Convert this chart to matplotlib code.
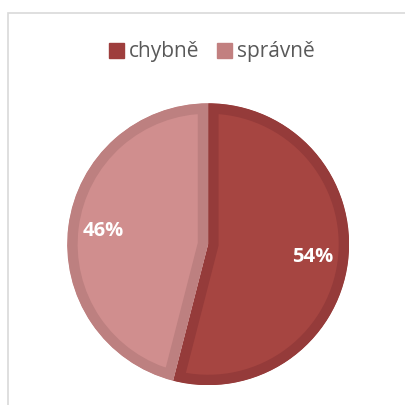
import matplotlib.pyplot as plt
from matplotlib.patches import Rectangle

labels = ['chybně', 'správně']
shares = [54, 46]
fill_colors = ['#A64541', '#D08E8E']
edge_colors = ['#953B3A', '#BD8080']
legend_colors = ['#9E3E3D', '#C28080']

plt.rcParams['font.family'] = ['Open Sans', 'DejaVu Sans']

fig = plt.figure(figsize=(4.05, 4.05), dpi=100)

# light grey chart frame, only left and top edges fall inside the image
fig.patches.append(Rectangle((8 / 405, -0.05), 1.2, 1 - 13 / 405 + 0.05,
                             transform=fig.transFigure, fill=False,
                             edgecolor='#D9D9D9', linewidth=1.2))

ax = fig.add_axes([0.514 - 0.348, 0.397 - 0.348, 0.696, 0.696])
wedges, texts, autotexts = ax.pie(
    shares, colors=fill_colors, startangle=90, counterclock=False,
    autopct='%d%%', pctdistance=0.75,
    textprops=dict(color='white', fontsize=14.5, fontweight='bold'),
    wedgeprops=dict(linewidth=15))

# stroke each slice on its inside only
for w, ec in zip(wedges, edge_colors):
    w.set_edgecolor(ec)
    w.set_clip_on(True)
    w.set_clip_path(w)

ax.set_xlim(-1, 1)
ax.set_ylim(-1, 1)
ax.set_aspect('equal')
ax.axis('off')

handles = [Rectangle((0, 0), 1, 1, color=c) for c in legend_colors]
fig.legend(handles, labels, loc='center', bbox_to_anchor=(0.523, 1 - 52 / 405),
           ncol=2, frameon=False, fontsize=15, labelcolor='#595959',
           handlelength=0.7, handleheight=0.7, handletextpad=0.25,
           columnspacing=0.85)

fig.savefig('out.png', dpi=100)
